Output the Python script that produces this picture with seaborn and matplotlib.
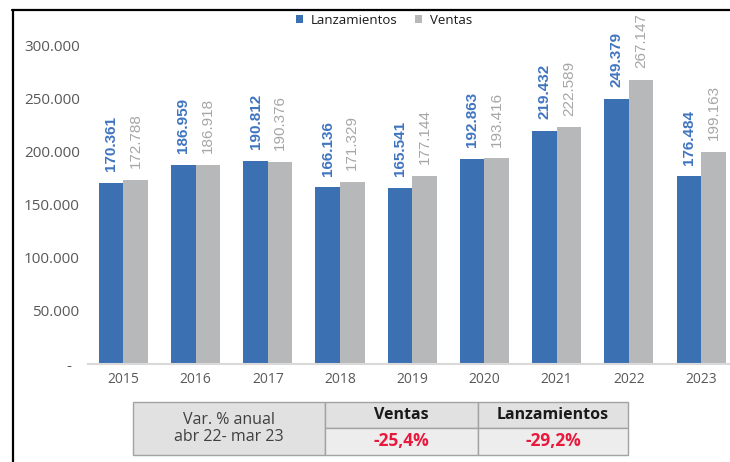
import numpy as np
import pandas as pd
import seaborn as sns
import matplotlib.pyplot as plt
from matplotlib.lines import Line2D
from matplotlib.patches import Rectangle

# Chart data
years = ["2015", "2016", "2017", "2018", "2019", "2020", "2021", "2022", "2023"]
lanzamientos = [170361, 186959, 190812, 166136, 165541, 192863, 219432, 249379, 176484]
ventas = [172788, 186918, 190376, 171329, 177144, 193416, 222589, 267147, 199163]
series_names = ["Lanzamientos", "Ventas"]
y_ticks = [0, 50000, 100000, 150000, 200000, 250000, 300000]

# Summary table
table_title = "Var. % anual\nabr 22- mar 23"
table_headers = ["Ventas", "Lanzamientos"]
table_values = ["-25,4%", "-29,2%"]

BLUE = "#3b70b2"
GRAY = "#b7b8ba"
BLUE_TXT = "#3f74c0"
GRAY_TXT = "#a6a6a6"
RED = "#e8193c"


def fmt_miles(v):
    return f"{v:,.0f}".replace(",", ".")


df = pd.DataFrame({
    "year": years * 2,
    "valor": lanzamientos + ventas,
    "serie": [series_names[0]] * len(years) + [series_names[1]] * len(years),
})

sns.set_theme(style="white")
plt.rcParams["font.family"] = ["Open Sans", "DejaVu Sans"]

fig = plt.figure(figsize=(7.3, 4.62), dpi=100)
W, H = 730, 462
ax = fig.add_axes([88 / W, 1 - 364 / H, 1 - 88 / W, (364 - 45) / H])

sns.barplot(data=df, x="year", y="valor", hue="serie", palette=[BLUE, GRAY],
            width=0.68, saturation=1, linewidth=0, ax=ax)

ax.set_xlim(-0.49, 8.4)
ax.set_ylim(0, 300000)
ax.set_yticks(y_ticks)
ax.set_yticklabels(["-  "] + [fmt_miles(t) for t in y_ticks[1:]],
                   fontsize=11, color="#595959")
ax.tick_params(axis="y", length=0, pad=6)
ax.tick_params(axis="x", length=0, pad=6, labelsize=10, labelcolor="#595959")
ax.set_xlabel("")
ax.set_ylabel("")
for s in ["top", "right", "left"]:
    ax.spines[s].set_visible(False)
ax.spines["bottom"].set_color("#d9d9d9")
ax.spines["bottom"].set_linewidth(1.5)

# value labels
label_styles = [(BLUE_TXT, "bold"), (GRAY_TXT, "normal")]
for cont, vals, (col, fw) in zip(ax.containers, [lanzamientos, ventas], label_styles):
    ax.bar_label(cont, labels=[fmt_miles(v) for v in vals], padding=8.5,
                 rotation=90, color=col, fontweight=fw, fontsize=11,
                 family=["Liberation Sans", "DejaVu Sans"], clip_on=False)

# legend
handles, labels = ax.get_legend_handles_labels()
ax.get_legend().remove()
fig.legend(handles, labels, loc="center", bbox_to_anchor=(384 / W, 1 - 20 / H),
           ncol=2, frameon=False, fontsize=9.5, handlelength=0.55,
           handleheight=0.55, handletextpad=0.6, columnspacing=1.3,
           labelcolor="#1a1a1a")

# outer frame
fig.add_artist(Line2D([12.5 / W, 12.5 / W], [0, 1 - 9.5 / H], color="black", lw=1.6))
fig.add_artist(Line2D([12 / W, 1], [1 - 9.5 / H, 1 - 9.5 / H], color="black", lw=1.6))

# summary table
def fig_rect(x0, y0, x1, y1, fc):
    fig.add_artist(Rectangle((x0 / W, 1 - y1 / H), (x1 - x0) / W, (y1 - y0) / H,
                             facecolor=fc, edgecolor="#a3a3a3", lw=1.0))

cols = [133, 325, 478, 628]
rows = [402, 428, 455]
fig_rect(cols[0], rows[0], cols[1], rows[2], "#e1e1e1")
for i in range(2):
    fig_rect(cols[i + 1], rows[0], cols[i + 2], rows[1], "#e1e1e1")
    fig_rect(cols[i + 1], rows[1], cols[i + 2], rows[2], "#ededed")
    cx = (cols[i + 1] + cols[i + 2]) / 2
    fig.text(cx / W, 1 - (rows[0] + rows[1]) / 2 / H, table_headers[i],
             ha="center", va="center", fontsize=11.5, fontweight="bold", color="#1a1a1a")
    fig.text(cx / W, 1 - (rows[1] + rows[2]) / 2 / H, table_values[i],
             ha="center", va="center", fontsize=12.5, fontweight="bold", color=RED)
fig.text((cols[0] + cols[1]) / 2 / W, 1 - 428.5 / H, table_title, ha="center",
         va="center", fontsize=11.5, color="#404040", linespacing=1.1)

fig.savefig("out.png", dpi=100)
